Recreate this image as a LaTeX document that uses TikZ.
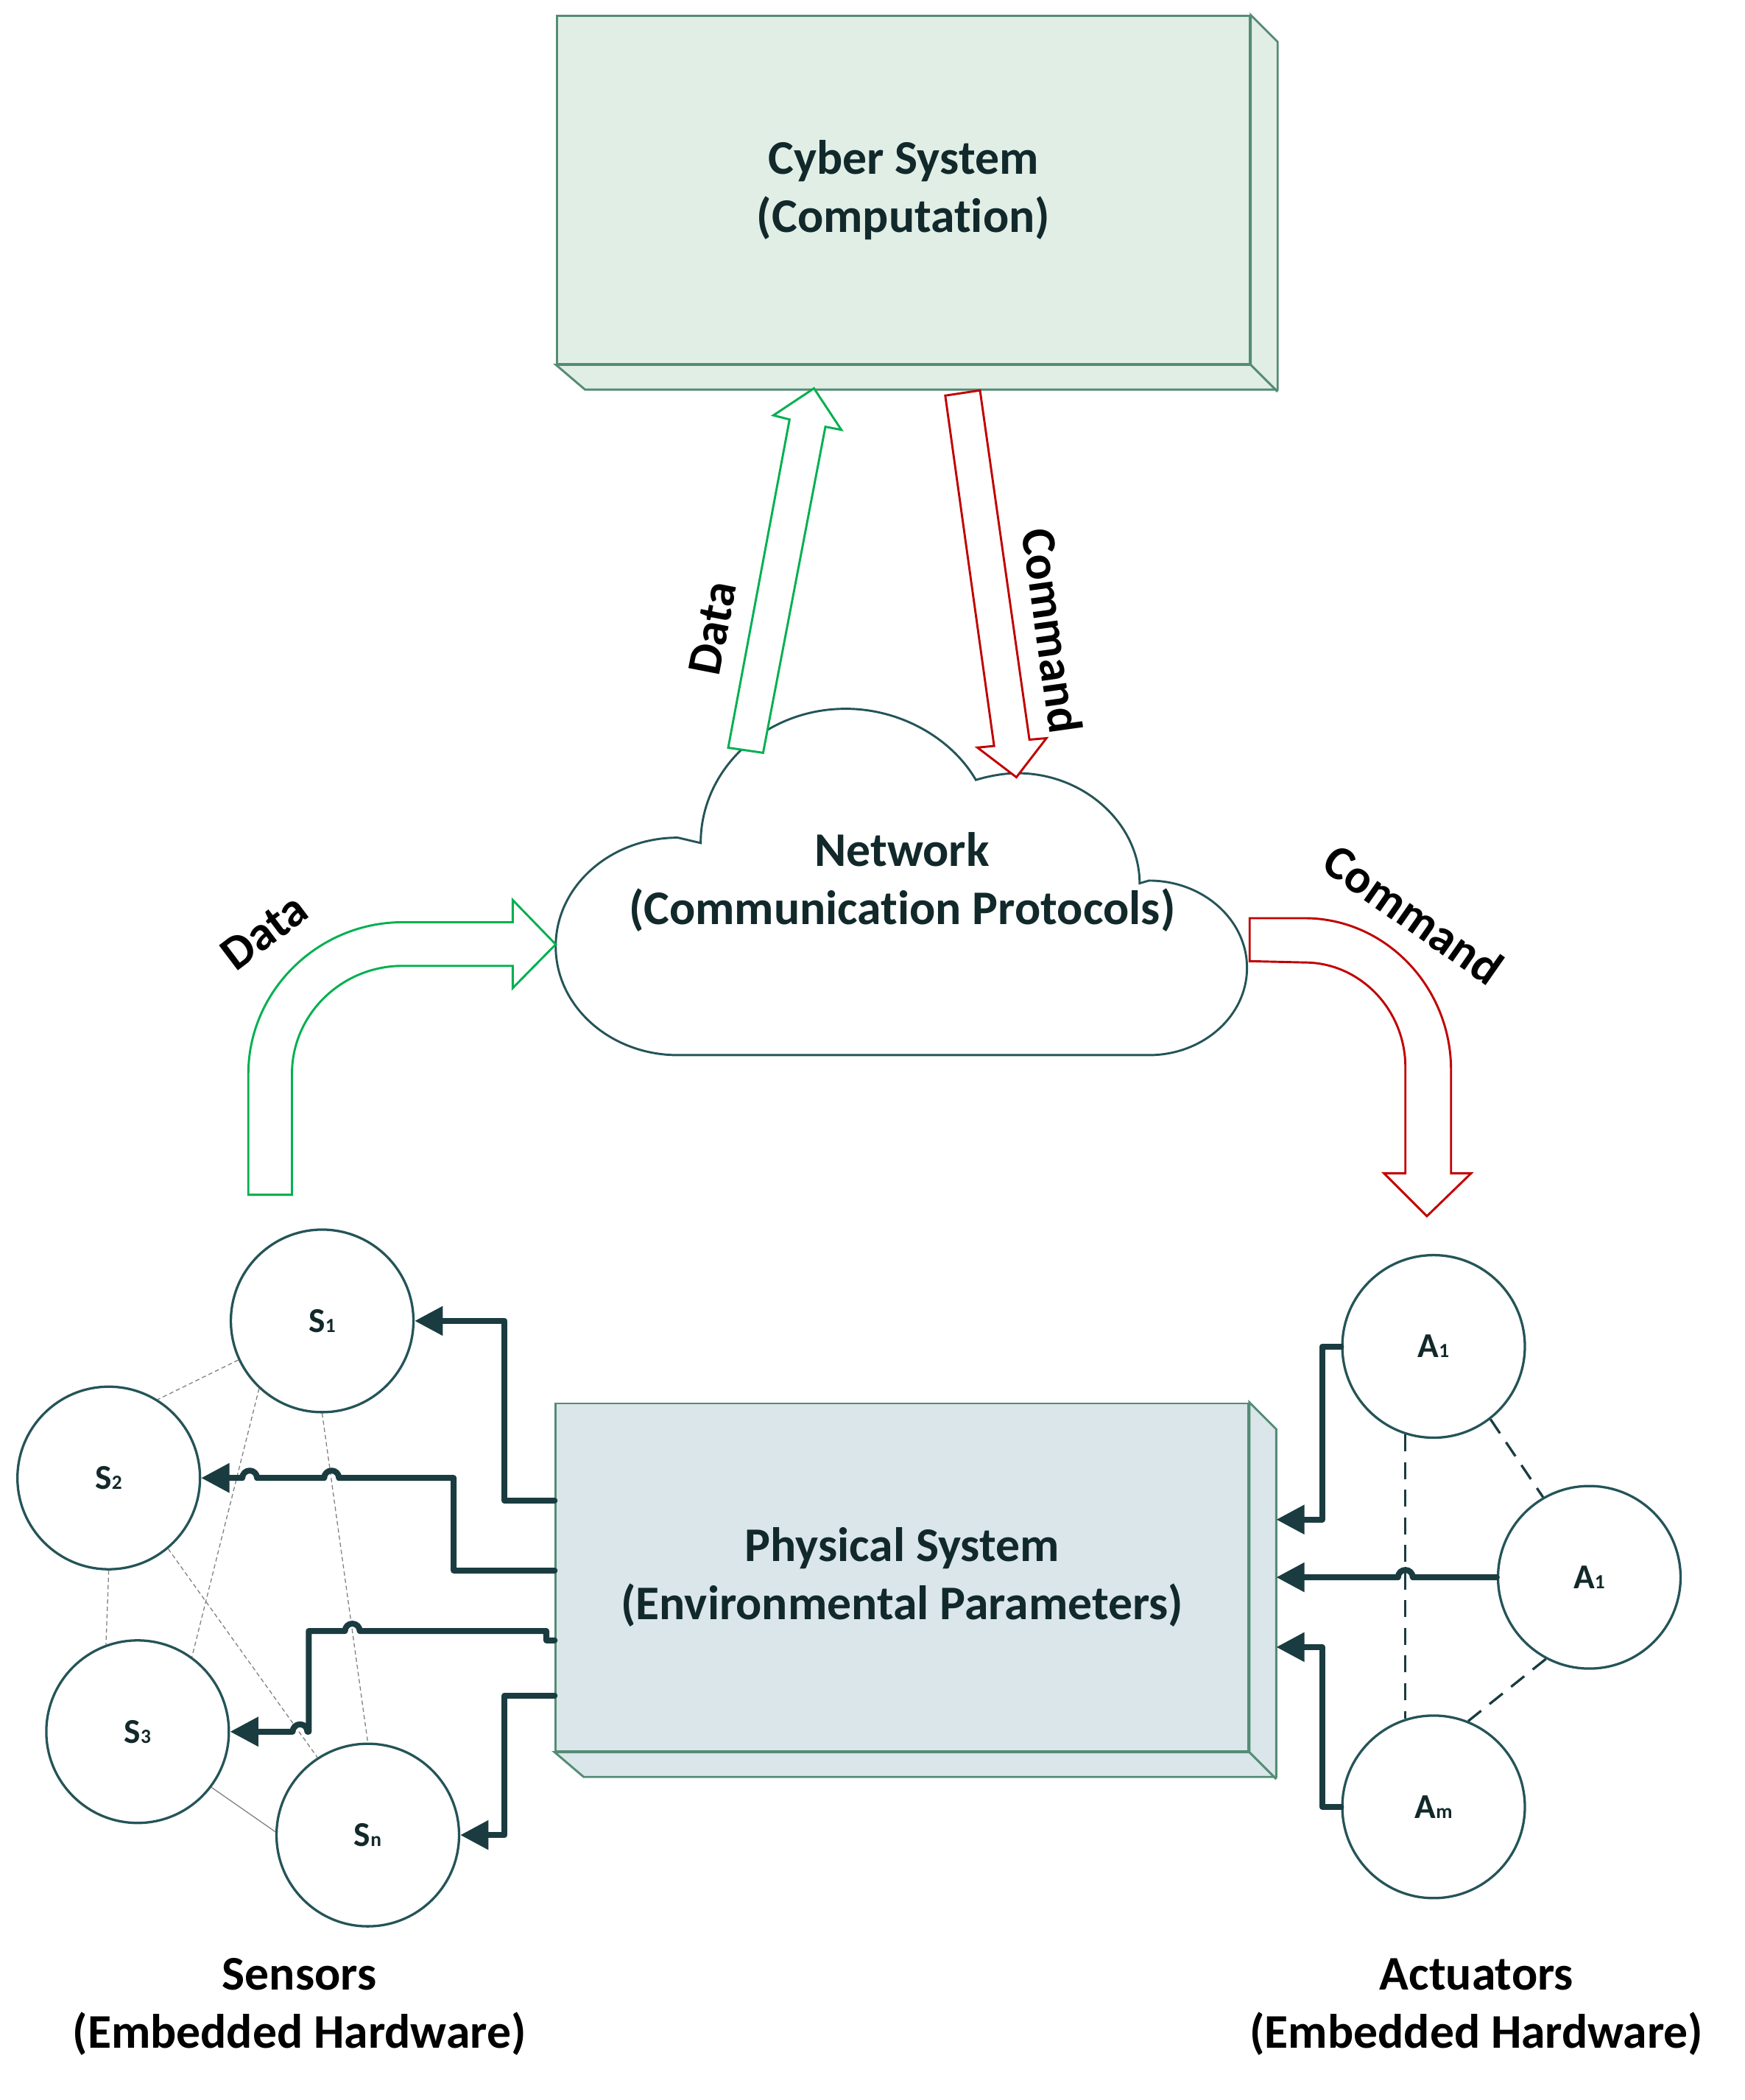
\documentclass[tikz,border=0pt]{standalone}
\usepackage{fontspec}
\setmainfont{Carlito}[Ligatures=NoCommon]
\usetikzlibrary{arrows.meta,calc}

\definecolor{boxline}{RGB}{84,140,116}
\definecolor{cyberfill}{RGB}{225,238,230}
\definecolor{physfill}{RGB}{218,230,234}
\definecolor{tealline}{RGB}{36,84,88}
\definecolor{wirecol}{RGB}{26,60,64}
\definecolor{txtcol}{RGB}{18,41,43}
\definecolor{datagreen}{RGB}{0,176,80}
\definecolor{cmdred}{RGB}{192,0,0}

\newcommand{\devidx}[1]{{\fontsize{7.5}{8}\selectfont #1}}

\tikzset{
  bigtext/.style={font=\bfseries\fontsize{18}{21.6}\selectfont, align=center, inner sep=0.75pt},
  sysbox/.style={draw=boxline, line width=0.8pt, minimum width=258pt, minimum height=129.5pt, bigtext, text=txtcol},
  dev/.style={circle, draw=tealline, line width=0.9pt, minimum size=68pt, inner sep=0pt, text=txtcol, font=\bfseries\fontsize{13}{15}\selectfont},
  wire/.style={draw=wirecol, line width=2.2pt, line cap=round, line join=round, -{Triangle[length=10.5pt,width=10.5pt]}},
  sdash/.style={draw=gray, line width=0.35pt, dash pattern=on 1.6pt off 1.1pt},
  adash/.style={draw=wirecol, line width=0.9pt, dash pattern=on 6.3pt off 4pt},
  dataarrow/.style={draw=datagreen, line width=0.8pt, fill=white, line join=miter},
  cmdarrow/.style={draw=cmdred, line width=0.8pt, fill=white, line join=miter},
}

\begin{document}
\begin{tikzpicture}[x=0.5pt,y=0.5pt,yscale=-1,xscale=1]
    \useasboundingbox (0,0) rectangle (1300,1564.4);
    %Shape: Cube [id:cyber]
    \node[sysbox, fill=cyberfill] (cyber) at (673,141.5) {Cyber System\\(Computation)};
    \draw[boxline, line width=0.8pt, fill=cyberfill] (cyber.north east) -- ++(20,20) -- ++(0,259) -- ++(-516,0) -- (cyber.south west) -- (cyber.south east) -- cycle;
    \draw[boxline, line width=0.8pt] (cyber.south east) -- ++(20,20);
    %Shape: Cloud [id:net]
    \draw[tealline, line width=0.8pt, fill=white] (505,786) .. controls (455,786) and (414,750) .. (414,705) .. controls (414,660) and (455,624) .. (505,624) -- (522,628) .. controls (522,573) and (570,528) .. (630,528) .. controls (671,528) and (709,550) .. (727,581) .. controls (737,578) and (748,576) .. (758,576) .. controls (808,576) and (849,614) .. (849,658) -- (856,656) .. controls (896,656) and (929,685) .. (929,721) .. controls (929,757) and (896,786) .. (856,786) -- cycle;
    % Text Node
    \node[bigtext, text=txtcol] (net) at (672,657) {Network\\(Communication Protocols)};
    %Shape: Up Arrow [id:dataup]
    \draw[dataarrow] (542.5,557) -- (588.2,312.5) -- (576.2,309.4) -- (606.4,289.3) -- (626.8,320.2) -- (614.9,317.9) -- (568.5,560.8) -- cycle;
    %Shape: Down Arrow [id:cmddown]
    \draw[cmdarrow] (704.2,294.7) -- (730.1,290.8) -- (766.9,551) -- (779.6,549.9) -- (757.2,579) -- (728.2,556.9) -- (740.6,555.7) -- cycle;
    %Shape: Bent Arrow [id:dataleft]
    \draw[dataarrow] (185,890) -- (185,800) .. controls (185,738) and (237,687) .. (300,687) -- (382,687) -- (382,670.5) -- (414,703.5) -- (382,736) -- (382,719.5) -- (300,719.5) .. controls (254.5,719.5) and (217.5,755.6) .. (217.5,800) -- (217.5,890) -- cycle;
    %Shape: Bent Arrow [id:cmdright]
    \draw[cmdarrow] (931,684) -- (972,684) .. controls (1032,684) and (1081,735) .. (1081,797) -- (1081,874) -- (1096,874) -- (1063,906) -- (1031,874) -- (1047,874) -- (1047,795) .. controls (1047,752) and (1013,717) .. (972,717) -- (931,716) -- cycle;
    % Text Node
    \node[bigtext, rotate=79] (datauplbl) at (531,468) {Data};
    % Text Node
    \node[bigtext, rotate=-82] (cmddownlbl) at (784,470) {Command};
    % Text Node
    \node[bigtext, rotate=37] (dataleftlbl) at (197,694) {Data};
    % Text Node
    \node[bigtext, rotate=-35] (cmdrightlbl) at (1053,681) {Command};
    %Shape: Cube [id:phys]
    \node[sysbox, fill=physfill] (phys) at (672,1175) {Physical System\\(Environmental Parameters)};
    \draw[boxline, line width=0.8pt, fill=physfill] (phys.north east) -- ++(20,20) -- ++(0,259) -- ++(-516,0) -- (phys.south west) -- (phys.south east) -- cycle;
    \draw[boxline, line width=0.8pt] (phys.south east) -- ++(20,20);
    \coordinate (physside) at ($(phys.east)+(20,0)$);
    %Sensors
    \node[dev] (s1) at (240,984) {S\devidx{1}};
    \node[dev] (s2) at (81,1101) {S\devidx{2}};
    \node[dev] (s3) at (102.5,1290) {S\devidx{3}};
    \node[dev] (sn) at (274,1367) {S\devidx{n}};
    \draw[sdash] (s1.205) -- (s2.58);
    \draw[sdash] (s1.227) -- (s3.54);
    \draw[sdash] (s1.270) -- (sn.90);
    \draw[sdash] (s2.270) -- (s3.110);
    \draw[sdash] (s2.310) -- (sn.123);
    \draw[gray, line width=0.35pt] (s3.323) -- (sn.178);
    %Actuators
    \node[dev] (a1) at (1068,1003) {A\devidx{1}};
    \node[dev] (a1b) at (1184,1175) {A\devidx{1}};
    \node[dev] (am) at (1068,1346) {A\devidx{m}};
    \draw[adash] (a1.252) -- (a1.252 |- am.108);
    \draw[adash] (a1.308) -- (a1b.120);
    \draw[adash] (a1b.242) -- (am.68);
    %Wires to sensors
    \draw[wire] (phys.west |- 0,1118) -- (376,1118) |- (s1);
    \draw[wire] (phys.west |- 0,1170) -- (338,1170) -- (338,1101) -- (252.5,1101) arc[start angle=0,end angle=-180,radius=5.5] -- (191.5,1101) arc[start angle=0,end angle=-180,radius=5.5] -- (s2);
    \draw[wire] (phys.west |- 0,1222) -- (407,1222) -- (407,1215) -- (268,1215) arc[start angle=0,end angle=-180,radius=5.5] -- (230,1215) -- (230,1290) -- (229,1290) arc[start angle=0,end angle=-180,radius=5.5] -- (s3);
    \draw[wire] (phys.west |- 0,1263) -- (376,1263) |- (sn);
    %Wires from actuators
    \draw[wire] (a1) -- (985,1003) |- (physside |- 0,1132);
    \draw[wire] (a1b) -- (1052.5,1175) arc[start angle=0,end angle=-180,radius=5.5] -- (physside);
    \draw[wire] (am) -- (985,1346) |- (physside |- 0,1227);
    % Text Node
    \node[bigtext] (senslbl) at (223,1495) {Sensors\\(Embedded Hardware)};
    % Text Node
    \node[bigtext] (actlbl) at (1100,1495) {Actuators\\(Embedded Hardware)};
\end{tikzpicture}
\end{document}
